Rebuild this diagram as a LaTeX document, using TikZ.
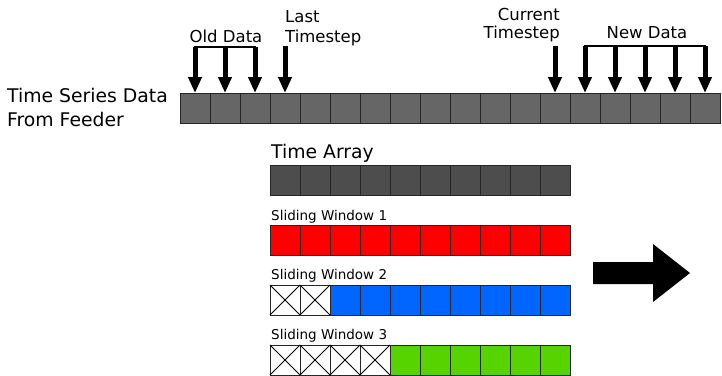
\documentclass[tikz,border=0pt]{standalone}
\usepackage{fontspec}
\setmainfont{DejaVu Sans}
\usetikzlibrary{arrows.meta}
\definecolor{rowgray}{HTML}{666666}
\definecolor{arraygray}{HTML}{4D4D4D}
\definecolor{winred}{HTML}{FF0000}
\definecolor{winblue}{HTML}{0066FF}
\definecolor{wingreen}{HTML}{55D400}
\tikzset{
  cell/.style={draw=black!85, line width=1pt, minimum width=30pt, minimum height=30pt, inner sep=0pt, outer sep=0pt},
  bigtxt/.style={inner sep=0pt, font=\fontsize{18.8pt}{22pt}\selectfont},
  midtxt/.style={inner sep=0pt, font=\fontsize{16.5pt}{20pt}\selectfont},
  smalltxt/.style={inner sep=0pt, font=\fontsize{13.5pt}{16pt}\selectfont},
  downarrow/.style={line width=5pt, -{Triangle[width=13pt,length=16pt]}},
  bracket/.style={line width=2pt, line cap=rect},
  crossed/.style={cell, fill=white},
}
\begin{document}
\begin{tikzpicture}[x=1pt,y=-1pt]
\useasboundingbox (0,0) rectangle (722,375);

% top row
\foreach \i in {1,...,18} {
  \node[cell, fill=rowgray] (t\i) at ({195+30*(\i-1)},108) {};
}
\node[bigtxt, anchor=base west] (lab1) at (7,102) {Time Series Data};
\node[bigtxt, anchor=base west] (lab2) at (7,126) {From Feeder};

% top labels
\node[midtxt, anchor=base] (old) at (226,42) {Old Data};
\node[midtxt, anchor=base west] (last1) at (285,22) {Last};
\node[midtxt, anchor=base west] (last2) at (285,42) {Timestep};
\node[midtxt, anchor=base east] (cur1) at (560,20) {Current};
\node[midtxt, anchor=base east] (cur2) at (560,38) {Timestep};
\node[midtxt, anchor=base] (new) at (647,38) {New Data};

% old data arrows
\coordinate (ob1) at (195,47);
\coordinate (ob2) at (225,47);
\coordinate (ob3) at (255,47);
\draw[bracket] (ob1) -- (ob3);
\draw[downarrow] (ob1) -- (t1.north);
\draw[downarrow] (ob2) -- (t2.north);
\draw[downarrow] (ob3) -- (t3.north);
% last timestep
\coordinate (ls) at (285,46);
\draw[downarrow] (ls) -- (t4.north);
% current timestep
\coordinate (cs) at (555,46);
\draw[downarrow] (cs) -- (t13.north);
% new data
\foreach \i/\x in {14/585,15/615,16/645,17/675,18/705} {
  \coordinate (nb\i) at (\x,46);
}
\draw[bracket] (nb14) -- (nb18);
\foreach \i in {14,...,18} {
  \draw[downarrow] (nb\i) -- (t\i.north);
}

% time array
\node[bigtxt, anchor=base west] (ta) at (271,158) {Time Array};
\foreach \i in {1,...,10} {
  \node[cell, fill=arraygray] (a\i) at ({285+30*(\i-1)},180) {};
}
% sliding window 1
\node[smalltxt, anchor=base west] (sw1) at (271,220) {Sliding Window 1};
\foreach \i in {1,...,10} {
  \node[cell, fill=winred] (w1c\i) at ({285+30*(\i-1)},240) {};
}
% sliding window 2
\node[smalltxt, anchor=base west] (sw2) at (271,279) {Sliding Window 2};
\foreach \i in {1,...,10} {
  \ifnum\i<3
    \node[crossed] (w2c\i) at ({285+30*(\i-1)},300) {};
    \draw[line width=0.8pt] (w2c\i.north west) -- (w2c\i.south east) (w2c\i.north east) -- (w2c\i.south west);
  \else
    \node[cell, fill=winblue] (w2c\i) at ({285+30*(\i-1)},300) {};
  \fi
}
% sliding window 3
\node[smalltxt, anchor=base west] (sw3) at (271,339) {Sliding Window 3};
\foreach \i in {1,...,10} {
  \ifnum\i<5
    \node[crossed] (w3c\i) at ({285+30*(\i-1)},360) {};
    \draw[line width=0.8pt] (w3c\i.north west) -- (w3c\i.south east) (w3c\i.north east) -- (w3c\i.south west);
  \else
    \node[cell, fill=wingreen] (w3c\i) at ({285+30*(\i-1)},360) {};
  \fi
}

% big arrow
\fill[black] (593,262) -- (653,262) -- (653,244) -- (690,273) -- (653,302) -- (653,284) -- (593,284) -- cycle;
\end{tikzpicture}
\end{document}
